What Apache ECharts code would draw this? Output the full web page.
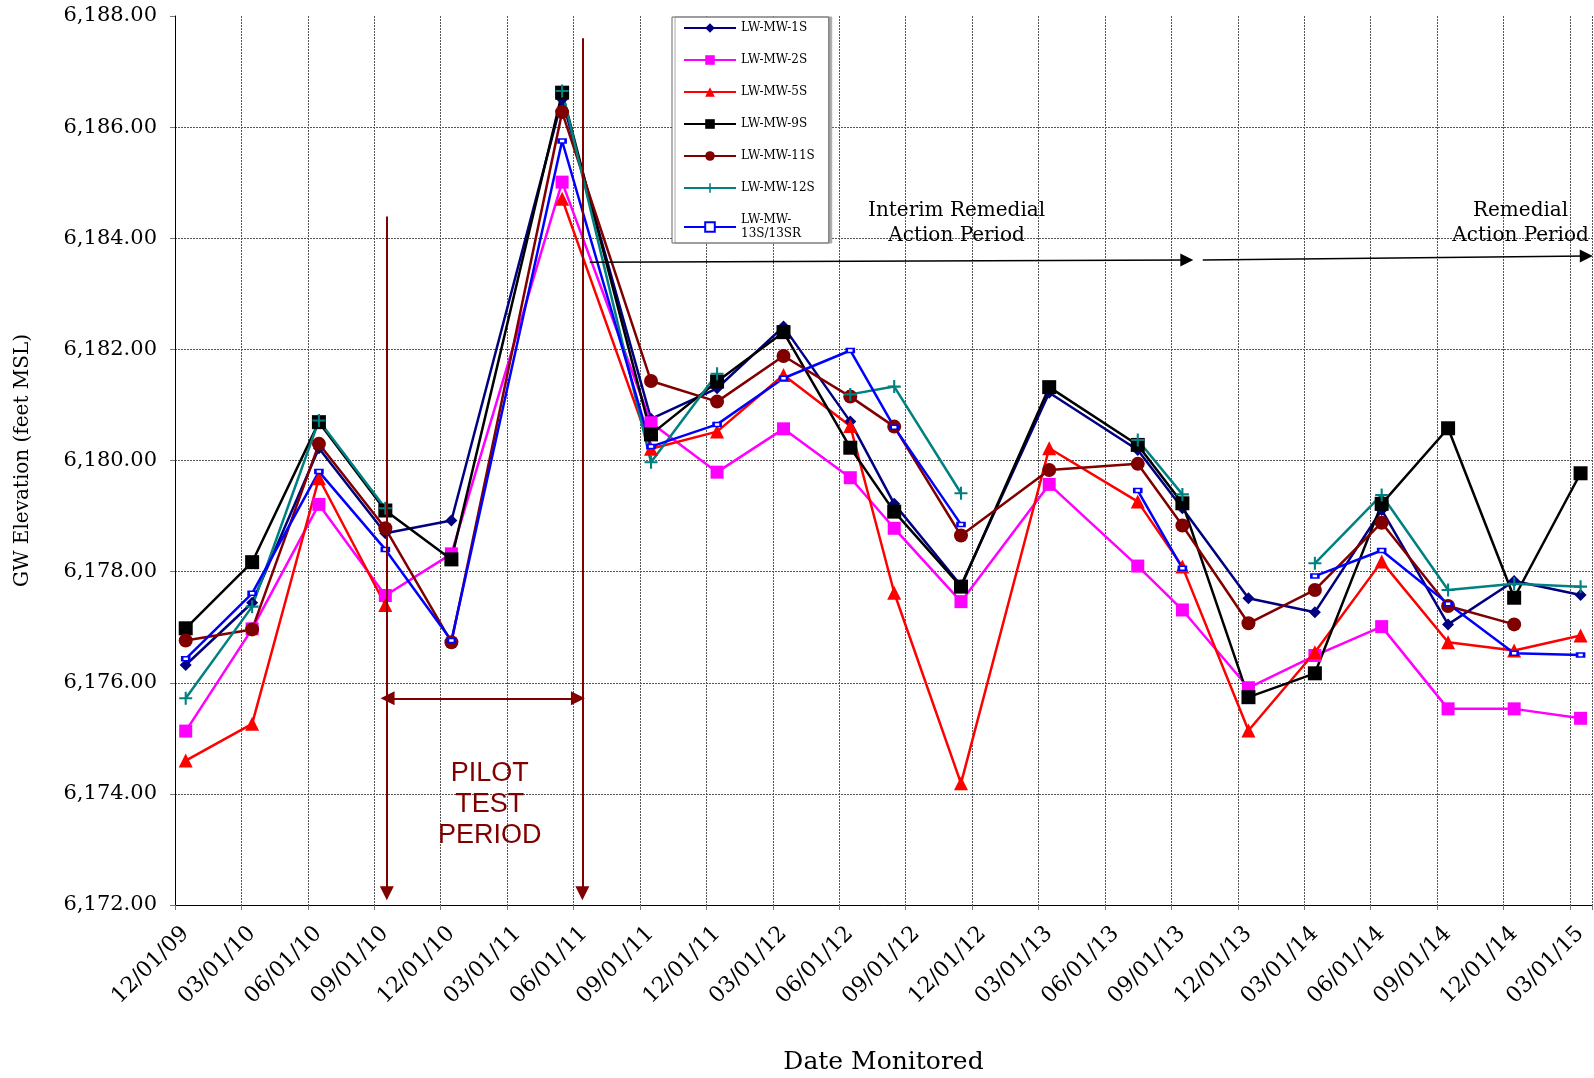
<!DOCTYPE html>
<html>
<head>
<meta charset="utf-8">
<script src="https://cdn.jsdelivr.net/npm/echarts@6/dist/echarts.min.js"></script>
<style>html,body{margin:0;padding:0;background:#fff}#c{width:1594px;height:1078px}</style>
</head>
<body>
<div id="c"></div>
<script>
// ---- data ----
const sampleDates = ['2009-12-16','2010-03-16','2010-06-16','2010-09-16','2010-12-16','2011-05-16','2011-09-16',
  '2011-12-16','2012-03-16','2012-06-16','2012-08-16','2012-11-16','2013-03-16','2013-07-16','2013-09-16',
  '2013-12-16','2014-03-16','2014-06-16','2014-09-16','2014-12-16','2015-03-16'];
const mw1S  = [6176.32,6177.44,6180.22,6178.69,6178.92,6186.50,6180.75,6181.30,6182.41,6180.70,6179.22,6177.75,6181.22,6180.19,6179.14,6177.52,6177.27,6179.11,6177.05,6177.83,6177.58];
const mw2S  = [6175.13,6176.97,6179.21,6177.57,6178.32,6185.01,6180.68,6179.79,6180.57,6179.69,6178.78,6177.46,6179.57,6178.10,6177.31,6175.91,6176.49,6177.01,6175.53,6175.53,6175.36];
const mw5S  = [6174.60,6175.26,6179.68,6177.40,null,6184.71,6180.21,6180.52,6181.54,6180.62,6177.62,6174.19,6180.22,6179.26,6178.09,6175.14,6176.55,6178.18,6176.73,6176.58,6176.85];
const mw9S  = [6176.98,6178.17,6180.69,6179.10,6178.22,6186.62,6180.47,6181.42,6182.31,6180.23,6179.08,6177.73,6181.32,6180.28,6179.23,6175.74,6176.17,6179.22,6180.58,6177.53,6179.77];
const mw11S = [6176.76,6176.96,6180.30,6178.78,6176.73,6186.27,6181.43,6181.06,6181.88,6181.15,6180.61,6178.65,6179.83,6179.94,6178.83,6177.07,6177.67,6178.88,6177.38,6177.05,null];
const mw12S = [6175.72,6177.37,6180.72,6179.14,null,6186.65,6179.97,6181.56,null,6181.19,6181.33,6179.41,null,6180.37,6179.39,null,6178.15,6179.38,6177.67,6177.78,6177.73];
const mw13S = [6176.43,6177.61,6179.80,6178.40,6176.76,6185.75,6180.25,6180.65,6181.48,6181.98,6180.60,6178.85,null,6179.46,6178.06,null,6177.92,6178.38,6177.42,6176.53,6176.50];
const seriesNames = ['LW-MW-1S','LW-MW-2S','LW-MW-5S','LW-MW-9S','LW-MW-11S','LW-MW-12S','LW-MW-13S/13SR'];
const seriesValues = [mw1S, mw2S, mw5S, mw9S, mw11S, mw12S, mw13S];

// axis range: months counted from 12/01/09; y ticks 6172..6188 step 2
const axisStartDate = '2009-12-01';
const axisEndDate = '2015-04-01';
const yMin = 6172, yMax = 6188, yStep = 2;
const xTickMonths = 3;

// annotations (dates / elevations)
const pilotStartDate = '2010-09-18', pilotEndDate = '2011-06-13';
const pilotArrowFrom = '2010-09-19', pilotArrowTo = '2011-06-07', pilotArrowElev = 6175.72;
const pilotLeftTop = 6184.39, pilotRightTop = 6187.6, pilotBottom = 6172.21;
const interimFrom = ['2011-06-23', 6183.57], interimTo = ['2013-09-22', 6183.61];
const remedialFrom = ['2013-10-14', 6183.61], remedialTo = ['2015-03-24', 6183.68];
const interimText = ['2012-11-10', 6184.27, 'Interim Remedial\nAction Period'];
const remedialText = ['2014-12-25', 6184.27, 'Remedial\nAction Period'];
const pilotText = ['2011-02-07', 6173.80, 'PILOT\nTEST\nPERIOD'];

// ---- helpers ----
const [sy, sm] = axisStartDate.split('-').map(Number);
function monthPos(s) {
  const [y, m, d] = s.split('-').map(Number);
  const dim = new Date(Date.UTC(y, m, 0)).getUTCDate();
  return (y - sy) * 12 + (m - sm) + (d - 1) / dim;
}
function pad(n) { return (n < 10 ? '0' : '') + n; }
function monthLabel(v) {
  const r = Math.round(v);
  if (Math.abs(v - r) > 1e-6 || r % xTickMonths !== 0) return '';
  const t = (sm - 1) + r;
  const y = sy + Math.floor(t / 12);
  const m = t % 12 + 1;
  return pad(m) + '/01/' + pad(y % 100);
}
function elevLabel(v) {
  const parts = v.toFixed(2).split('.');
  return parts[0].replace(/\B(?=(\d{3})+$)/g, ',') + '.' + parts[1];
}

const FONT = 'DejaVu Serif';
const styles = [
  {color: '#000080', symbol: 'diamond', size: 12, bw: 0},
  {color: '#FF00FF', symbol: 'rect', size: 13, bw: 0},
  {color: '#FF0000', symbol: 'triangle', size: 14, bw: 0},
  {color: '#000000', symbol: 'rect', size: 14, bw: 0},
  {color: '#800000', symbol: 'circle', size: 14, bw: 0},
  {color: '#008080', symbol: 'path://M4.2,0H5.8V4.2H10V5.8H5.8V10H4.2V5.8H0V4.2H4.2Z', size: 13, bw: 0},
  {color: '#0000FF', symbol: 'emptyRect', size: [7, 4], bw: 1.5}
];

const xs = sampleDates.map(monthPos);
const series = seriesNames.map((name, k) => ({
  name: name,
  type: 'line',
  data: xs.map((x, i) => [x, seriesValues[k][i]]),
  connectNulls: false,
  symbol: styles[k].symbol,
  symbolSize: styles[k].size,
  showAllSymbol: true,
  lineStyle: {color: styles[k].color, width: 2.5},
  itemStyle: {color: styles[k].color, borderColor: styles[k].color, borderWidth: styles[k].bw},
  emphasis: {disabled: true},
  animation: false
}));

const pilotRed = '#800000';
series.push({
  name: '_pilot', type: 'line', data: [], silent: true, animation: false,
  markLine: {
    silent: true, animation: false, symbol: ['none', 'triangle'], symbolSize: 14,
    label: {show: false}, emphasis: {disabled: true},
    lineStyle: {color: pilotRed, width: 2, type: 'solid'},
    itemStyle: {color: pilotRed},
    data: [
      [{coord: [monthPos(pilotStartDate), pilotLeftTop]}, {coord: [monthPos(pilotStartDate), pilotBottom]}],
      [{coord: [monthPos(pilotEndDate), pilotRightTop]}, {coord: [monthPos(pilotEndDate), pilotBottom]}],
      [{coord: [monthPos(pilotArrowFrom), pilotArrowElev], symbol: 'triangle'}, {coord: [monthPos(pilotArrowTo), pilotArrowElev]}]
    ]
  },
  markPoint: {
    silent: true, animation: false, symbol: 'circle', symbolSize: 1,
    itemStyle: {color: 'rgba(0,0,0,0)'},
    data: [{
      coord: [monthPos(pilotText[0]), pilotText[1]],
      label: {show: true, position: 'inside', formatter: pilotText[2], color: pilotRed,
        fontFamily: 'Liberation Sans', fontSize: 27, lineHeight: 31, align: 'center'}
    }]
  }
});
series.push({
  name: '_action', type: 'line', data: [], silent: true, animation: false,
  markLine: {
    silent: true, animation: false, symbol: ['none', 'triangle'], symbolSize: 13,
    label: {show: false}, emphasis: {disabled: true},
    lineStyle: {color: '#000', width: 1.5, type: 'solid'},
    itemStyle: {color: '#000'},
    data: [
      [{coord: [monthPos(interimFrom[0]), interimFrom[1]]}, {coord: [monthPos(interimTo[0]), interimTo[1]]}],
      [{coord: [monthPos(remedialFrom[0]), remedialFrom[1]]}, {coord: [monthPos(remedialTo[0]), remedialTo[1]]}]
    ]
  },
  markPoint: {
    silent: true, animation: false, symbol: 'circle', symbolSize: 1,
    itemStyle: {color: 'rgba(0,0,0,0)'},
    data: [interimText, remedialText].map(t => ({
      coord: [monthPos(t[0]), t[1]],
      label: {show: true, position: 'inside', formatter: t[2], color: '#000',
        fontFamily: FONT, fontSize: 20, lineHeight: 25, align: 'center'}
    }))
  }
});

const chart = echarts.init(document.getElementById('c'), null, {renderer: 'canvas'});
chart.setOption({
  animation: false,
  backgroundColor: '#fff',
  textStyle: {fontFamily: FONT},
  grid: {left: 175, right: 2, top: 16, bottom: 173, containLabel: false, outerBoundsMode: 'none'},
  legend: {
    data: seriesNames,
    orient: 'vertical', left: 672, top: 17,
    itemWidth: 52, itemHeight: 12, itemGap: 18,
    padding: [4, 14, 2, 11],
    borderColor: '#666', borderWidth: 1, backgroundColor: '#fff',
    shadowColor: '#aaa', shadowOffsetX: 3, shadowOffsetY: 0, shadowBlur: 0,
    selectedMode: false,
    textStyle: {fontFamily: FONT, fontSize: 12, color: '#000', lineHeight: 14},
    formatter: n => n === 'LW-MW-13S/13SR' ? 'LW-MW-\n13S/13SR' : n
  },
  xAxis: {
    type: 'value',
    min: 0, max: monthPos(axisEndDate), interval: xTickMonths,
    name: 'Date Monitored', nameLocation: 'middle', nameGap: 145,
    nameTextStyle: {fontFamily: FONT, fontSize: 25, color: '#000'},
    axisLine: {show: true, lineStyle: {color: '#000', width: 1}},
    axisTick: {show: true, length: 5, lineStyle: {color: '#777'}},
    axisLabel: {rotate: 45, margin: 9, verticalAlign: 'top', padding: [8, 4, 0, 0],
      fontFamily: FONT, fontSize: 22, color: '#000', formatter: monthLabel},
    splitLine: {show: true, lineStyle: {color: '#555', width: 1, type: [2, 1]}}
  },
  yAxis: {
    type: 'value',
    min: yMin, max: yMax, interval: yStep,
    name: 'GW Elevation (feet MSL)', nameLocation: 'middle', nameGap: 142, nameRotate: 90,
    nameTextStyle: {fontFamily: FONT, fontSize: 20, color: '#000'},
    axisLine: {show: true, lineStyle: {color: '#000', width: 1}},
    axisTick: {show: true, length: 5, lineStyle: {color: '#777'}},
    axisLabel: {margin: 18, fontFamily: FONT, fontSize: 21, color: '#000', formatter: elevLabel},
    splitLine: {show: true, showMaxLine: false, lineStyle: {color: '#555', width: 1, type: [2, 1]}}
  },
  series: series
});
</script>
</body>
</html>
